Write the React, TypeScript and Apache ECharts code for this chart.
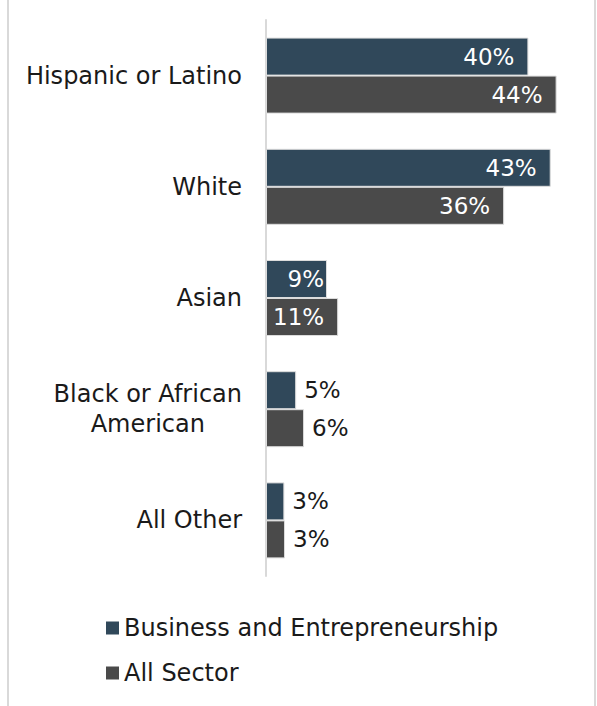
import React, { useEffect, useRef } from "react";
import * as echarts from "echarts";

const categories = ["Hispanic or Latino", "White", "Asian", "Black or African\nAmerican", "All Other"];
const businessValues = [40, 43.4, 9.3, 4.6, 2.8];
const allSectorValues = [44.3, 36.3, 11, 5.8, 2.9];
const seriesNames = ["Business and Entrepreneurship", "All Sector"];
const insideThreshold = 8;

const FONT = "DejaVu Sans";
const FS = 23;
const FS_AXIS = 24;

function makeData(values: number[]) {
  return values.map((v) => {
    const inside = v >= insideThreshold;
    return {
      value: v,
      label: inside
        ? { position: "insideRight", distance: v < 10 ? 3 : 14, color: "#ffffff" }
        : { position: "right", distance: 8, color: "#1a1a1a" },
    };
  });
}

export default function App() {
  const ref = useRef<HTMLDivElement>(null);
  useEffect(() => {
    if (!ref.current) return;
    const chart = echarts.init(ref.current, null, { renderer: "svg" });
    const labelCommon = {
      show: true,
      fontFamily: FONT,
      fontSize: FS,
      formatter: (p: any) => Math.round(p.value) + "%",
    };
    chart.setOption({
      animation: false,
      textStyle: { fontFamily: FONT },
      graphic: [
        {
          type: "rect",
          shape: { x: 8, y: -10, width: 587, height: 730 },
          style: { fill: "none", stroke: "#d9d9d9", lineWidth: 2 },
          silent: true,
        },
      ],
      grid: { left: 266, right: 3, top: 20, bottom: 130, containLabel: false },
      xAxis: {
        type: "value",
        min: 0,
        max: 50,
        show: false,
      },
      yAxis: {
        type: "category",
        data: categories,
        inverse: true,
        axisLine: { show: true, lineStyle: { color: "#d9d9d9", width: 2 } },
        axisTick: { show: false },
        axisLabel: {
          fontFamily: FONT,
          fontSize: FS_AXIS,
          color: "#1a1a1a",
          margin: 24,
          align: "right",
          lineHeight: 30,
          formatter: (v: string) =>
            v
              .split("\n")
              .map((line) => "{c|" + line + "}")
              .join("\n"),
          rich: {
            c: { fontFamily: FONT, fontSize: FS_AXIS, color: "#1a1a1a", align: "center", lineHeight: 30 },
          },
        },
      },
      legend: {
        orient: "vertical",
        left: 101,
        top: 611,
        itemGap: 21,
        itemWidth: 13,
        itemHeight: 13,
        icon: "rect",
        itemStyle: { borderWidth: 0 },
        textStyle: { fontFamily: FONT, fontSize: FS_AXIS, color: "#1a1a1a" },
        data: seriesNames,
      },
      series: [
        {
          name: seriesNames[0],
          type: "bar",
          data: makeData(businessValues),
          barWidth: 38,
          barGap: "0%",
          itemStyle: { color: "#30485a", borderColor: "#dcdcdc", borderWidth: 1 },
          label: labelCommon,
        },
        {
          name: seriesNames[1],
          type: "bar",
          data: makeData(allSectorValues),
          barWidth: 38,
          barGap: "0%",
          itemStyle: { color: "#4a4a4a", borderColor: "#dcdcdc", borderWidth: 1 },
          label: labelCommon,
        },
      ],
    });
    return () => chart.dispose();
  }, []);
  return (
    <div
      ref={ref}
      style={{ position: "absolute", left: 0, top: 0, width: 597, height: 706, background: "#fff" }}
    />
  );
}
